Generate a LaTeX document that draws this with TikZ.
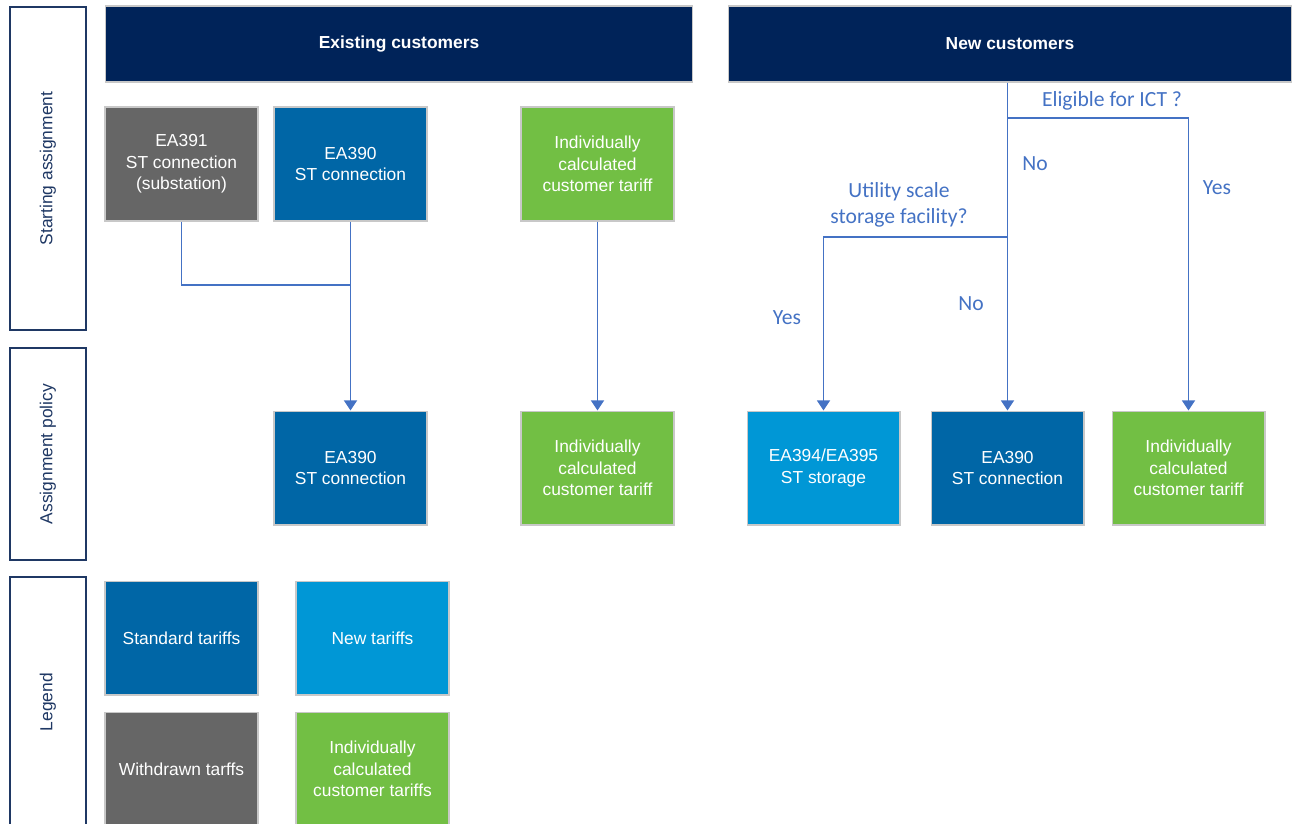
\documentclass[tikz,border=0pt]{standalone}
\usepackage{fontspec}
\setmainfont{Liberation Sans}
\newfontfamily\lblfont{Carlito}
\usetikzlibrary{arrows.meta}

\definecolor{hdrnavy}{HTML}{002359}
\definecolor{sidenavy}{HTML}{1F3864}
\definecolor{stdblue}{HTML}{0066A6}
\definecolor{newblue}{HTML}{0097D6}
\definecolor{wdgray}{HTML}{666666}
\definecolor{icgreen}{HTML}{72BF44}
\definecolor{linkblue}{HTML}{4472C4}
\definecolor{boxline}{HTML}{C8C8C8}

\begin{document}
\begin{tikzpicture}[x=0.02cm,y=-0.02cm,
    box/.style={draw=boxline,line width=0.6pt,minimum width=3.06cm,minimum height=2.28cm,
      inner sep=0pt,text=white,align=center,font=\fontsize{9.9}{12.2}\selectfont},
    hdr/.style={box,fill=hdrnavy,minimum height=1.52cm,font=\fontsize{9.9}{12.2}\selectfont\bfseries},
    side/.style={draw=sidenavy,line width=0.7pt,rotate=90,minimum height=1.52cm,
      inner sep=0pt,text=sidenavy,font=\fontsize{9.9}{12.2}\selectfont},
    flow/.style={draw=linkblue,line width=1.1pt,-{Triangle[width=7.4pt,length=5.8pt]}},
    link/.style={draw=linkblue,line width=1.1pt},
    lbl/.style={text=linkblue,align=center,inner sep=0pt,font=\lblfont\fontsize{12.3}{14.8}\selectfont}]
        \clip (0,0) rectangle (1297,823);

        % Side labels
        \node[side,minimum width=6.46cm] (start) at (48,168.5) {Starting assignment};
        \node[side,minimum width=4.24cm] (policy) at (48,454) {Assignment policy};
        \node[side,minimum width=5cm] (legend) at (48,702) {Legend};

        % Headers
        \node[hdr,minimum width=11.76cm] (existing) at (399,44) {Existing customers};
        \node[hdr,minimum width=11.28cm] (newcust) at (1010,44) {New customers};

        % Starting assignment
        \node[box,fill=wdgray] (ea391) at (181.5,164) {EA391\\ST connection\\(substation)};
        \node[box,fill=stdblue] (ea390a) at (350.5,164) {EA390\\ST connection};
        \node[box,fill=icgreen] (icta) at (597.5,164) {Individually\\calculated\\customer tariff};

        % Assignment policy
        \node[box,fill=stdblue] (ea390b) at (350.5,468) {EA390\\ST connection};
        \node[box,fill=icgreen] (ictb) at (597.5,468) {Individually\\calculated\\customer tariff};
        \node[box,fill=newblue] (ea394) at (823.5,468) {EA394/EA395\\ST storage};
        \node[box,fill=stdblue] (ea390c) at (1007.5,468) {EA390\\ST connection};
        \node[box,fill=icgreen] (ictc) at (1188.5,468) {Individually\\calculated\\customer tariff};

        % Legend
        \node[box,fill=stdblue] (stdkey) at (181.5,638) {Standard tariffs};
        \node[box,fill=newblue] (newkey) at (372.5,638) {New tariffs};
        \node[box,fill=wdgray] (wdkey) at (181.5,769) {Withdrawn tarffs};
        \node[box,fill=icgreen] (ickey) at (372.5,769) {Individually\\calculated\\customer tariffs};

        % Existing customers flow
        \coordinate (merge) at (350.5,285);
        \draw[link] (ea391.south) |- (merge);
        \draw[flow] (ea390a) -- (ea390b);
        \draw[flow] (icta) -- (ictb);

        % New customers flow
        \coordinate (ict) at (1007.5,118);
        \coordinate (usf) at (1007.5,237);
        \draw[flow] (newcust.south -| ea390c.north) -- (ea390c.north);
        \draw[flow] (ict) -| (ictc.north);
        \draw[flow] (usf) -| (ea394.north);

        % Questions and answers
        \node[lbl] (qict) at (1112,101) {Eligible for ICT ?};
        \node[lbl] (qictno) at (1035,164) {No};
        \node[lbl] (qictyes) at (1217,188) {Yes};
        \node[lbl] (qusf) at (899,205) {Utility scale\\storage facility?};
        \node[lbl] (qusfyes) at (787,318) {Yes};
        \node[lbl] (qusfno) at (971,304) {No};
\end{tikzpicture}
\end{document}
